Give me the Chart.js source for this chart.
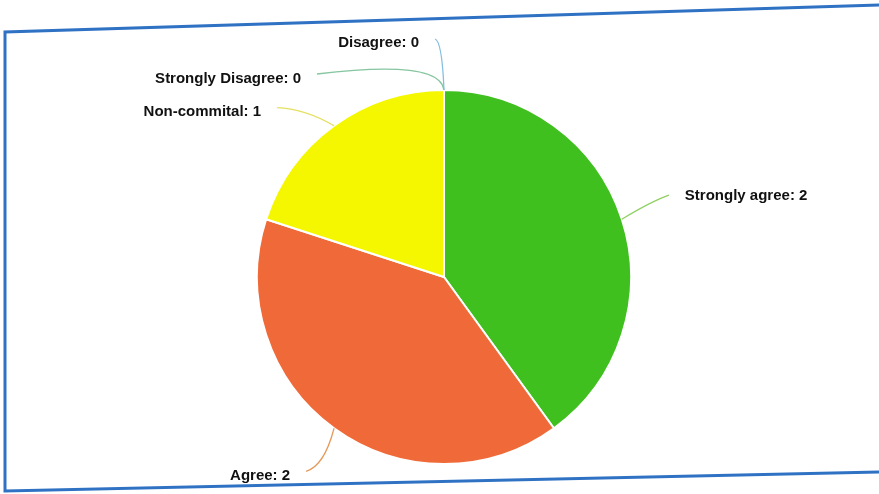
<!DOCTYPE html>
<html>
<head>
<meta charset="utf-8">
<script src="https://cdn.jsdelivr.net/npm/chart.js@4"></script>
<style>
  html, body { margin: 0; padding: 0; background: #fff; }
  #wrap { width: 879px; height: 494px; }
</style>
</head>
<body>
<div id="wrap"><canvas id="chart" width="879" height="494"></canvas></div>
<script>
// answers and how many people gave them
var labels = ["Strongly agree", "Agree", "Non-commital", "Strongly Disagree", "Disagree"];
var counts = [2, 2, 1, 0, 0];
var sliceColors = ["#3fc01f", "#ef6a38", "#f4f700", "#6fc29a", "#7ab8e0"];

// where each callout label sits relative to its slice edge point
var callouts = [
  { dx: 47, dy: -24, bend: [30, -18], tdy: 1, align: "left", line: "#8fd060" },
  { dx: -28, dy: 43, bend: [-10, 38], tdy: 5, align: "right", line: "#e69a5a" },
  { dx: -57, dy: -18, bend: [-30, -17], tdy: 4, align: "right", line: "#e4e060" },
  { dx: -127, dy: -16, bend: [-4, -31], tdy: 5, align: "right", line: "#86c6a0" },
  { dx: -9, dy: -51, bend: [-2, -49], tdy: 4, align: "right", line: "#84bde0" }
];

var frame = {
  id: "frame",
  beforeDraw: function(chart) {
    var c = chart.ctx;
    c.save();
    c.fillStyle = "#ffffff";
    c.fillRect(0, 0, chart.width, chart.height);
    c.strokeStyle = "#2f72c4";
    c.lineWidth = 3;
    c.beginPath();
    c.moveTo(879, 5);
    c.lineTo(5, 32);
    c.lineTo(5, 491);
    c.lineTo(879, 472);
    c.stroke();
    c.restore();
  }
};

var calloutPlugin = {
  id: "callouts",
  afterDatasetsDraw: function(chart) {
    var c = chart.ctx;
    var arcs = chart.getDatasetMeta(0).data;
    c.save();
    c.font = "bold 15px 'Liberation Sans', Arial, sans-serif";
    c.textBaseline = "middle";
    arcs.forEach(function(arc, i) {
      var mid = (arc.startAngle + arc.endAngle) / 2;
      var ax = arc.x + Math.cos(mid) * arc.outerRadius;
      var ay = arc.y + Math.sin(mid) * arc.outerRadius;
      var o = callouts[i];
      var ex = ax + o.dx, ey = ay + o.dy;
      c.strokeStyle = o.line;
      c.lineWidth = 1.3;
      c.beginPath();
      c.moveTo(ax, ay);
      c.quadraticCurveTo(ax + o.bend[0], ay + o.bend[1], ex, ey);
      c.stroke();
      c.fillStyle = "#111";
      var txt = labels[i] + ": " + counts[i];
      if (o.align === "left") {
        c.textAlign = "left";
        c.fillText(txt, ex + 16, ey + o.tdy);
      } else {
        c.textAlign = "right";
        c.fillText(txt, ex - 16, ey + o.tdy);
      }
    });
    c.restore();
  }
};

new Chart(document.getElementById("chart"), {
  type: "pie",
  data: {
    labels: labels,
    datasets: [{
      data: counts,
      backgroundColor: sliceColors,
      borderColor: "#ffffff",
      borderWidth: 2
    }]
  },
  options: {
    responsive: false,
    animation: false,
    layout: { padding: { top: 89, bottom: 29, left: 9, right: 0 } },
    plugins: {
      legend: { display: false },
      tooltip: { enabled: false }
    }
  },
  plugins: [frame, calloutPlugin]
});
</script>
</body>
</html>
